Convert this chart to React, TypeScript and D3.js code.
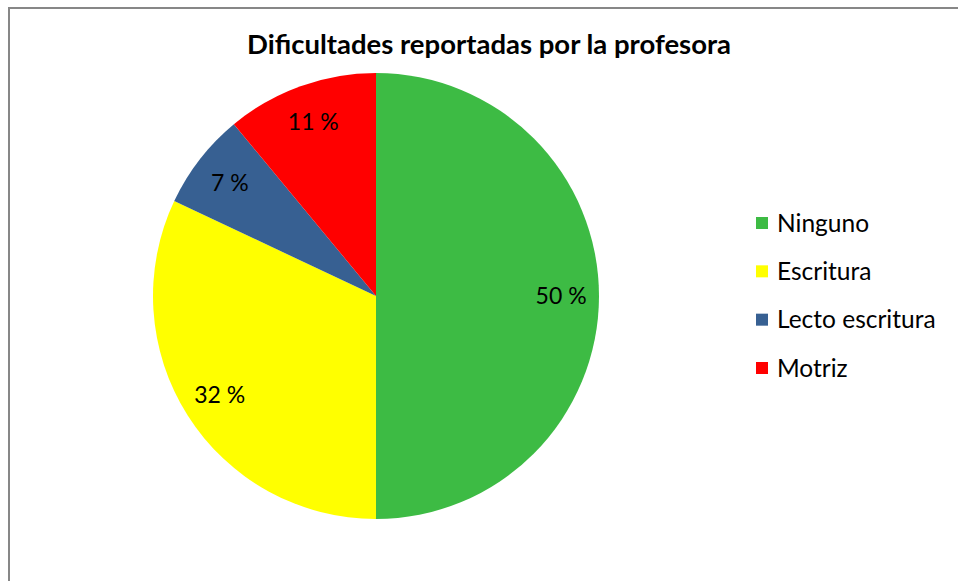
import React from 'react'
import * as d3 from 'd3'

const categories = ['Ninguno', 'Escritura', 'Lecto escritura', 'Motriz']
const values = [50, 32, 7, 11]
const colors = ['#3dbb44', '#ffff00', '#376092', '#ff0000']
const title = 'Dificultades reportadas por la profesora'

const W = 958
const H = 581
const FONT = 'Lato, "Open Sans", sans-serif'

export default function App() {
  const cx = 376
  const cy = 296
  const radius = 223

  const data = categories.map((c, i) => ({ name: c, value: values[i], color: colors[i] }))
  const pie = d3.pie<any>().sort(null).value(d => d.value)
  const arcs = pie(data)
  const arc = d3.arc<any>().innerRadius(0).outerRadius(radius)
  const labelArc = d3.arc<any>().innerRadius(radius * 0.83).outerRadius(radius * 0.83)

  const legendY = d3.scalePoint<string>().domain(categories).range([223, 368])

  return (
    <svg width={W} height={H} style={{ position: 'absolute', left: 0, top: 0, background: '#fff' }}>
      <rect x={9} y={8} width={W} height={H} fill='#fff' stroke='#878787' strokeWidth={2} />
      <text x={489} y={54} textAnchor='middle' fontFamily={FONT} fontWeight='bold' fontSize={27.5} fill='#000'>
        {title}
      </text>
      <g transform={`translate(${cx},${cy})`}>
        {arcs.map(a => (
          <path key={a.data.name} d={arc(a) as string} fill={a.data.color} />
        ))}
        {arcs.map(a => {
          const [x, y] = labelArc.centroid(a)
          return (
            <text key={'l' + a.data.name} x={x} y={y} dy='0.35em' textAnchor='middle'
              fontFamily={FONT} fontSize={23} fill='#000'>
              {a.data.value} %
            </text>
          )
        })}
      </g>
      {data.map(d => (
        <g key={'lg' + d.name} transform={`translate(756,${legendY(d.name)})`}>
          <rect x={0} y={-6} width={12} height={12} fill={d.color} />
          <text x={21} y={0} dy='0.35em' fontFamily={FONT} fontSize={24.5} fill='#000'>{d.name}</text>
        </g>
      ))}
    </svg>
  )
}
